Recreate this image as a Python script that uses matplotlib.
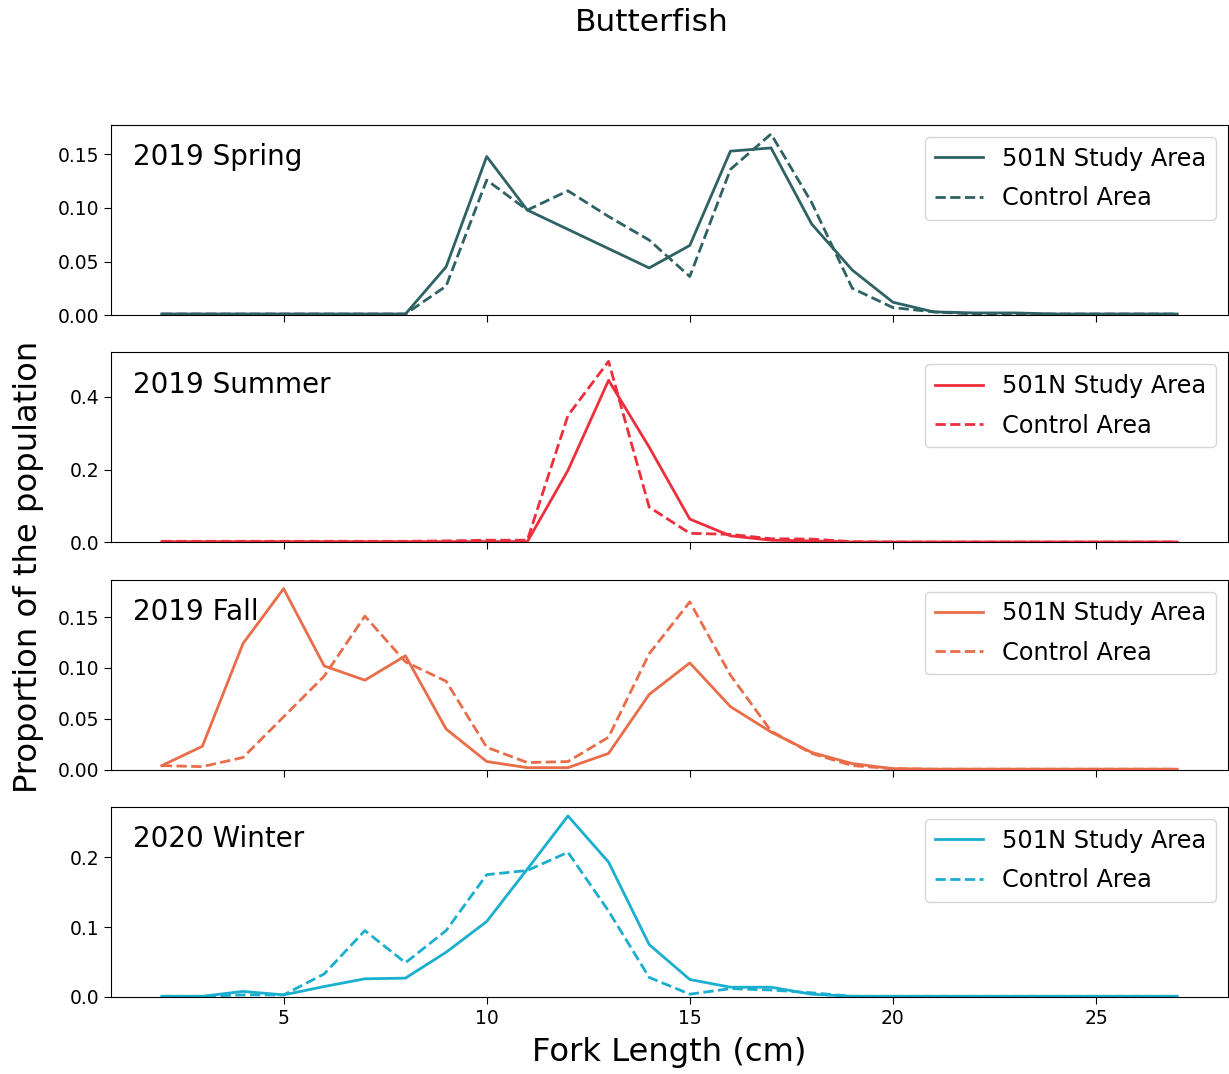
import matplotlib
matplotlib.use("Agg")
import matplotlib.pyplot as plt
import numpy as np

# Fork length bins (cm)
fork_length = list(range(2, 28))

seasons = ["2019 Spring", "2019 Summer", "2019 Fall", "2020 Winter"]
colors = ["#2F6264", "#EE2E3C", "#E96D48", "#1AAFCF"]

# Proportion of the population per fork-length bin, 501N study area
spring_study = [0.001, 0.001, 0.001, 0.001, 0.001, 0.001, 0.001, 0.045, 0.148, 0.098,
                0.080, 0.062, 0.044, 0.065, 0.153, 0.156, 0.085, 0.042, 0.012, 0.003,
                0.002, 0.002, 0.001, 0.001, 0.001, 0.001]
summer_study = [0.002, 0.002, 0.002, 0.002, 0.002, 0.002, 0.002, 0.002, 0.002, 0.002,
                0.198, 0.446, 0.262, 0.064, 0.018, 0.006, 0.004, 0.001, 0.001, 0.001,
                0.001, 0.001, 0.001, 0.001, 0.001, 0.001]
fall_study = [0.004, 0.023, 0.124, 0.178, 0.102, 0.088, 0.112, 0.040, 0.008, 0.002,
              0.002, 0.016, 0.074, 0.105, 0.062, 0.037, 0.017, 0.006, 0.001, 0.0005,
              0.0005, 0.0005, 0.0005, 0.0005, 0.0005, 0.0005]
winter_study = [0.001, 0.001, 0.008, 0.003, 0.015, 0.026, 0.027, 0.064, 0.108, 0.183,
                0.259, 0.193, 0.075, 0.025, 0.014, 0.014, 0.004, 0.001, 0.001, 0.001,
                0.001, 0.001, 0.001, 0.001, 0.001, 0.001]

# Proportion of the population per fork-length bin, control area
spring_control = [0.001, 0.001, 0.001, 0.001, 0.001, 0.001, 0.001, 0.027, 0.126, 0.098,
                  0.116, 0.092, 0.070, 0.036, 0.136, 0.169, 0.105, 0.025, 0.007, 0.003,
                  0.001, 0.001, 0.001, 0.001, 0.001, 0.001]
summer_control = [0.003, 0.003, 0.003, 0.003, 0.003, 0.003, 0.003, 0.004, 0.006, 0.006,
                  0.349, 0.498, 0.097, 0.025, 0.022, 0.010, 0.009, 0.002, 0.001, 0.001,
                  0.001, 0.001, 0.001, 0.001, 0.001, 0.001]
fall_control = [0.004, 0.003, 0.012, 0.052, 0.092, 0.151, 0.106, 0.087, 0.022, 0.007,
                0.008, 0.032, 0.114, 0.165, 0.093, 0.038, 0.016, 0.004, 0.001, 0.0005,
                0.0005, 0.0005, 0.0005, 0.0005, 0.0005, 0.0005]
winter_control = [0.001, 0.001, 0.003, 0.003, 0.033, 0.095, 0.049, 0.095, 0.175, 0.181,
                  0.207, 0.123, 0.028, 0.004, 0.012, 0.010, 0.006, 0.001, 0.001, 0.001,
                  0.001, 0.001, 0.001, 0.001, 0.001, 0.001]

study = [spring_study, summer_study, fall_study, winter_study]
control = [spring_control, summer_control, fall_control, winter_control]

# Y tick labels for each panel
yticks = [[0.00, 0.05, 0.10, 0.15],
          [0.0, 0.2, 0.4],
          [0.00, 0.05, 0.10, 0.15],
          [0.0, 0.1, 0.2]]
ytick_fmt = ["{:.2f}", "{:.1f}", "{:.2f}", "{:.1f}"]
xticks = [5, 10, 15, 20, 25]

fig = plt.figure(figsize=(12.29, 10.74), dpi=100)
axes = fig.subplots(4, 1, sharex=True)
fig.subplots_adjust(left=0.0903, right=0.9992, top=0.8836, bottom=0.0717, hspace=0.196)

for i, ax in enumerate(axes):
    ax.plot(fork_length, study[i], color=colors[i], lw=2.0, label="501N Study Area")
    ax.plot(fork_length, control[i], color=colors[i], lw=2.0, ls="--", label="Control Area")
    ax.set_ylim(bottom=0)
    ax.set_yticks(yticks[i])
    ax.set_yticklabels([ytick_fmt[i].format(v) for v in yticks[i]])
    ax.tick_params(axis="both", labelsize=13.5, length=5)
    ax.text(0.02, 0.83, seasons[i], transform=ax.transAxes, fontsize=20,
            ha="left", va="center")
    ax.legend(loc="upper right", fontsize=17.3, labelspacing=0.65)

axes[-1].set_xticks(xticks)
axes[-1].set_xlim(0.75, 28.25)

fig.suptitle("Butterfish", fontsize=22.5, x=0.53, y=0.9795, va="center")
fig.text(0.5443, 0.0196, "Fork Length (cm)", fontsize=23.2, ha="center", va="center")
fig.text(0.0228, 0.472, "Proportion of the population", fontsize=23.2,
         rotation=90, ha="center", va="center")

fig.savefig("out.png", dpi=100)
